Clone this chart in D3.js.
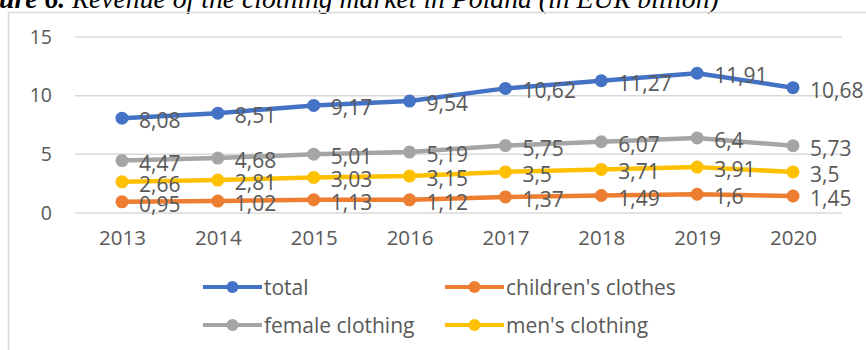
<!DOCTYPE html>
<html>
<head>
<meta charset="utf-8">
<script src="https://cdn.jsdelivr.net/npm/d3@7"></script>
<style>
  html, body { margin: 0; padding: 0; background: #fff; }
  svg { display: block; }
</style>
</head>
<body>
<svg id="chart" width="866" height="350"></svg>
<script>
// Revenue of the clothing market in Poland (EUR billion), 2013-2020
const years = ["2013", "2014", "2015", "2016", "2017", "2018", "2019", "2020"];
const totalValues    = [8.08, 8.51, 9.17, 9.54, 10.62, 11.27, 11.91, 10.68];
const childrenValues = [0.95, 1.02, 1.13, 1.12, 1.37, 1.49, 1.6, 1.45];
const femaleValues   = [4.47, 4.68, 5.01, 5.19, 5.75, 6.07, 6.4, 5.73];
const mensValues     = [2.66, 2.81, 3.03, 3.15, 3.5, 3.71, 3.91, 3.5];
const yTicks = [0, 5, 10, 15];
const seriesNames  = ["total", "children's clothes", "female clothing", "men's clothing"];
const seriesColors = ["#4472C4", "#ED7D31", "#A5A5A5", "#FFC000"];

const series = [totalValues, childrenValues, femaleValues, mensValues].map((vals, i) => ({
  name: seriesNames[i],
  color: seriesColors[i],
  points: vals.map((v, j) => ({ year: years[j], value: v }))
}));

const svg = d3.select("#chart");
const font = "'Open Sans', Lato, sans-serif";
const textGray = "#595959";

// Caption line, partly cut off by the top edge
const title = svg.append("text")
  .attr("x", -1).attr("y", 8)
  .attr("font-family", "'Liberation Serif', 'Times New Roman', serif")
  .attr("font-style", "italic")
  .attr("font-size", 27.7)
  .attr("fill", "#000");
title.append("tspan").attr("font-weight", "bold").text("ure 6. ");
title.append("tspan").text("Revenue of the clothing market in Poland (in EUR billion)");

// Chart area frame
svg.append("rect")
  .attr("x", 8.5).attr("y", 12.5)
  .attr("width", 900).attr("height", 400)
  .attr("fill", "none")
  .attr("stroke", "#d9d9d9")
  .attr("stroke-width", 1.5);

const plotLeft = 75, plotRight = 842;
const x = d3.scalePoint().domain(years).range([122, 793]);
const y = d3.scaleLinear().domain([0, 15]).range([213, 37]);

// Horizontal gridlines
svg.append("g")
  .selectAll("line")
  .data(yTicks)
  .join("line")
  .attr("x1", plotLeft).attr("x2", plotRight)
  .attr("y1", d => y(d)).attr("y2", d => y(d))
  .attr("stroke", "#d9d9d9")
  .attr("stroke-width", 1.5);

// Y axis labels
const yAxis = svg.append("g")
  .attr("transform", `translate(52,0)`)
  .call(d3.axisLeft(y).tickValues(yTicks).tickSize(0).tickPadding(0));
yAxis.select(".domain").remove();
yAxis.selectAll("text")
  .attr("font-family", font).attr("font-size", 19.5).attr("fill", textGray);

// X axis labels
const xAxis = svg.append("g")
  .attr("transform", `translate(0,${y(0)})`)
  .call(d3.axisBottom(x).tickSize(0).tickPadding(17));
xAxis.select(".domain").remove();
xAxis.selectAll("text")
  .attr("font-family", font).attr("font-size", 20.5).attr("fill", textGray);

// Series lines and markers
const line = d3.line().x(d => x(d.year)).y(d => y(d.value));
const seriesG = svg.append("g")
  .selectAll("g")
  .data(series)
  .join("g");

seriesG.append("path")
  .attr("d", d => line(d.points))
  .attr("fill", "none")
  .attr("stroke", d => d.color)
  .attr("stroke-width", 4.5)
  .attr("stroke-linejoin", "round")
  .attr("stroke-linecap", "round");

seriesG.selectAll("circle")
  .data(d => d.points.map(p => ({ ...p, color: d.color })))
  .join("circle")
  .attr("cx", d => x(d.year))
  .attr("cy", d => y(d.value))
  .attr("r", 6.5)
  .attr("fill", d => d.color);

// Value labels to the right of each point
const fmt = v => String(v).replace(".", ",");
svg.append("g")
  .selectAll("g")
  .data(series)
  .join("g")
  .selectAll("text")
  .data(d => d.points)
  .join("text")
  .attr("x", d => x(d.year) + 17)
  .attr("y", d => y(d.value) + 2)
  .attr("dominant-baseline", "central")
  .attr("font-family", font)
  .attr("font-size", 21)
  .attr("fill", textGray)
  .text(d => fmt(d.value));

// Legend
const legendPos = [
  { x: 203, y: 287 }, { x: 445, y: 287 },
  { x: 203, y: 325 }, { x: 445, y: 325 }
];
const legend = svg.append("g")
  .selectAll("g")
  .data(series)
  .join("g")
  .attr("transform", (d, i) => `translate(${legendPos[i].x},${legendPos[i].y})`);
legend.append("line")
  .attr("x1", 0).attr("x2", 59)
  .attr("stroke", d => d.color)
  .attr("stroke-width", 4);
legend.append("circle")
  .attr("cx", 29.5).attr("r", 6)
  .attr("fill", d => d.color);
legend.append("text")
  .attr("x", 61)
  .attr("dominant-baseline", "central")
  .attr("font-family", font)
  .attr("font-size", 21)
  .attr("fill", textGray)
  .text(d => d.name);
</script>
</body>
</html>
